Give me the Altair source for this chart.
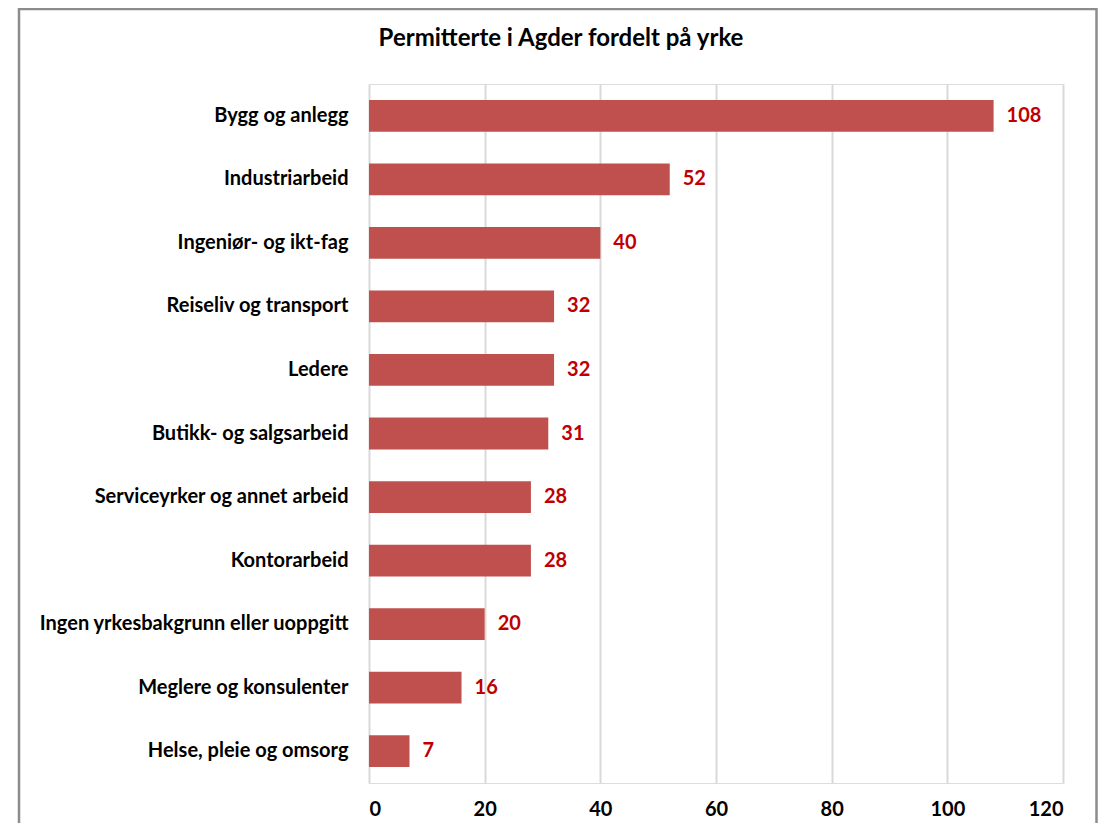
import altair as alt
import pandas as pd

categories = [
    "Bygg og anlegg",
    "Industriarbeid",
    "Ingeniør- og ikt-fag",
    "Reiseliv og transport",
    "Ledere",
    "Butikk- og salgsarbeid",
    "Serviceyrker og annet arbeid",
    "Kontorarbeid",
    "Ingen yrkesbakgrunn eller uoppgitt",
    "Meglere og konsulenter",
    "Helse, pleie og omsorg",
]
values = [108, 52, 40, 32, 32, 31, 28, 28, 20, 16, 7]
x_ticks = [0, 20, 40, 60, 80, 100, 120]

df = pd.DataFrame({"yrke": categories, "antall": values})

FONT = "Lato"
FS = 20

y_enc = alt.Y(
    "yrke:N",
    sort=categories,
    scale=alt.Scale(paddingInner=0.5, paddingOuter=0.25),
    axis=alt.Axis(
        title=None, domain=False, ticks=False, labelPadding=21,
        labelFontSize=FS, labelFontWeight="bold", labelColor="#000000",
        labelFont=FONT, labelLimit=400,
    ),
)
x_enc = alt.X(
    "antall:Q",
    scale=alt.Scale(domain=[0, 120], nice=False),
    axis=alt.Axis(
        title=None, domain=False, ticks=False, values=x_ticks,
        grid=True, gridColor="#D9D9D9", gridWidth=2,
        labelPadding=16, labelFontSize=FS, labelFontWeight="bold",
        labelColor="#000000", labelFont=FONT,
    ),
)

bars = alt.Chart(df).mark_bar(color="#C0504D").encode(x=x_enc, y=y_enc)

labels = alt.Chart(df).mark_text(
    align="left", baseline="middle", dx=13, color="#C00000",
    fontSize=FS, fontWeight="bold", font=FONT,
).encode(x="antall:Q", y=alt.Y("yrke:N", sort=categories), text="antall:Q")

frame = alt.Chart(pd.DataFrame({"f": [0]})).mark_rect(
    fill=None, stroke="#8C8C8C", strokeWidth=2.5
).encode(
    x=alt.value(-350), x2=alt.value(727.5), y=alt.value(-75), y2=alt.value(760)
)

chart = alt.layer(frame, bars, labels).properties(
    width=694,
    height=699,
    autosize=alt.AutoSizeParams(type="none"),
    padding={"left": 361, "top": 76, "right": 35, "bottom": 40},
    title=alt.TitleParams(
        "Permitterte i Agder fordelt på yrke",
        anchor="middle", frame="group", dx=-155, offset=-43,
        fontSize=24, fontWeight="bold", font=FONT, color="#000000",
    ),
).configure_view(stroke=None).configure(background="#ffffff")

chart.save("out.html", embed_options={"renderer": "svg", "actions": False})
